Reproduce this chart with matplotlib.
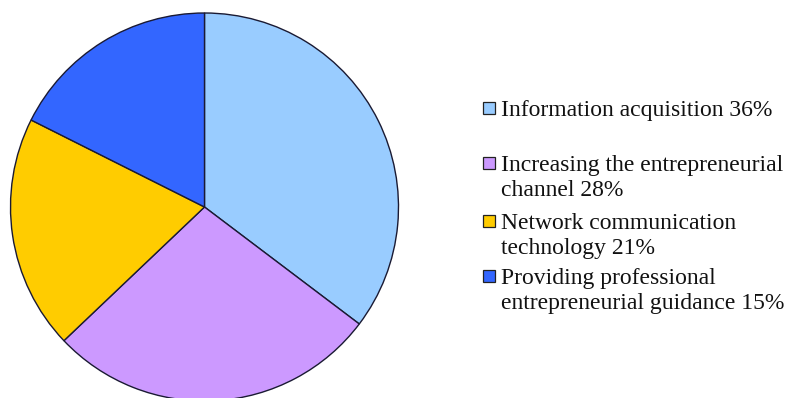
import matplotlib.pyplot as plt
from matplotlib.patches import Rectangle

# shares as drawn in the pie (the printed labels differ slightly)
shares = [35.3, 27.6, 19.5, 17.6]
labels = ['Information acquisition 36%',
          'Increasing the entrepreneurial\nchannel 28%',
          'Network communication\ntechnology 21%',
          'Providing professional\nentrepreneurial guidance 15%']
colors = ['#99CCFF', '#CC99FF', '#FFCC00', '#3366FF']

W, H = 793, 398
fig = plt.figure(figsize=(W / 100, H / 100), dpi=100)

# pie: centre ~ (204.5, 207) px, radius ~194 px
r = 194
cx, cy = 204.5, 207
ax = fig.add_axes([(cx - r) / W, (H - cy - r) / H, 2 * r / W, 2 * r / H])
wedges, _ = ax.pie(shares, colors=colors, startangle=90, counterclock=False,
                   radius=1, wedgeprops=dict(edgecolor='#1a1a33', linewidth=1.0))
for w in wedges:
    w.set_clip_on(False)
ax.set_xlim(-1, 1)
ax.set_ylim(-1, 1)
ax.set_aspect('equal')
ax.axis('off')

# legend drawn by hand so markers sit on the first line of each entry
marker_y = [108, 163, 221, 276]
for lab, col, my in zip(labels, colors, marker_y):
    fig.add_artist(Rectangle((483 / W, 1 - (my + 6) / H), 12 / W, 12 / H,
                             facecolor=col, edgecolor='#222222', linewidth=0.9,
                             transform=fig.transFigure))
    for i, line in enumerate(lab.split('\n')):
        base = my + 8 + i * 25
        fig.text(501 / W, 1 - base / H, line, family='Liberation Serif',
                 fontsize=17, color='#111111', va='baseline', ha='left')

fig.savefig('out.png', dpi=100)
